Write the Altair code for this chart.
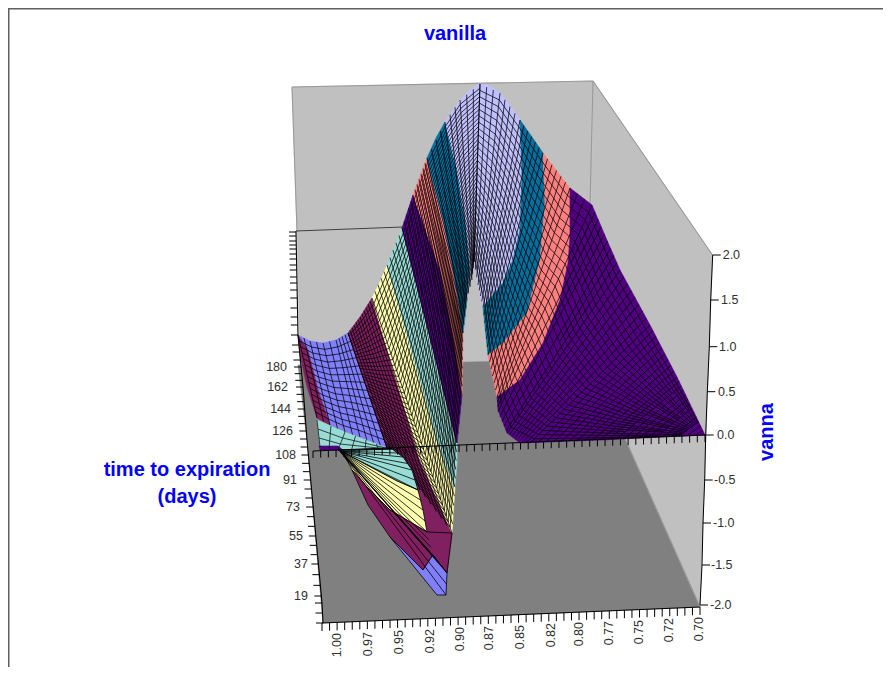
import altair as alt
import numpy as np
import pandas as pd

FONT = "Liberation Sans"
# ---------- walls (positions, in picture pixels)
back_wall = [(292,87),(593,81),(590,360),(300,365),(297,231)]
right_wall = [(593,81),(712.5,255),(700,607),(590,360)]
floor = [(298,365),(590,360),(700,607),(323,623),(307,440)]

# ---------- surface bands
band_hump = [(445,122),(460,100),(470,90),(480,84),(490,86),(500,93),(510,105),(520,120),(522,177),(520,230),(513,260),(503,283),(483,307),(478,285),(474,262),(470,275),(467,300),(470,270),(465,220),(457,170)]
band_blue_l = [(427,158),(436,138),(445,122),(457,170),(465,220),(470,270),(467,300),(463,333),(459,305),(453,270),(443,220)]
band_salmon_l = [(413,195),(420,176),(427,158),(443,220),(453,270),(459,305),(463,333),(462,395),(452,330),(440,270),(422,220)]
band_purple_l = [(402,228),(413,195),(422,220),(440,270),(452,330),(462,395),(457,443)]
band_aqua = [(387,265),(395,247),(402,228),(457,443),(457,463),(455,487),(440,450)]
band_yellow = [(372,298),(380,282),(387,265),(440,450),(455,487),(452,533),(420,460)]
band_plum = [(348,333),(360,317),(372,298),(420,460),(452,533),(447,573),(390,510),(387,448)]
band_peri = [(298,335),(310,341),(323,343),(336,340),(348,333),(387,448),(360,437),(330,425),(318,390),(308,350)]
band_strip = [(298,335),(308,350),(318,390),(330,425),(317,418),(307,387),(300,355)]
band_aqua_back = [(317,420),(345,432),(387,448),(392,450),(338,450),(320,447)]
band_purple_tiny = [(319,446),(338,446),(343,450),(320,450)]
band_blue_r = [(520,120),(532,137),(543,153),(545,203),(540,260),(527,313),(503,343),(488,355),(483,307),(503,283),(513,260),(520,230),(522,177)]
band_salmon_r = [(543,153),(556,170),(570,188),(570,237),(568,263),(560,300),(543,343),(520,380),(497,397),(488,355),(503,343),(527,313),(540,260),(545,203)]
band_purple_r = [(570,188),(592,205),(606,238),(620,270),(650,325),(677,377),(705,435),(600,440),(520,443),(507,433),(498,410),(497,397),(520,380),(543,343),(560,300),(568,263),(570,237)]
fold_aqua = [(338,450),(392,449),(403,457),(412,470),(418,490),(397,481),(363,463)]
fold_yellow = [(343,452),(363,463),(397,481),(418,490),(423,510),(427,532),(390,510),(367,487),(352,470)]
fold_plum = [(352,470),(367,487),(390,510),(427,532),(452,533),(447,573),(433,555),(423,570),(390,537),(368,505)]
fold_tip = [(390,537),(423,570),(433,555),(447,573),(446,595),(437,595)]

HUMP="#C0C0FF"; BLUE="#0070A0"; SALMON="#FF8080"; PURPLE="#500080"
AQUA="#98DCD6"; YELLOW="#FFFFB0"; PLUM="#802060"; PERI="#8080FF"
polys_back = [(back_wall,"#C0C0C0"),(right_wall,"#C0C0C0"),(floor,"#808080")]
polys_surface = [(band_peri,PERI),(band_strip,PLUM),(band_aqua_back,AQUA),(band_purple_tiny,PURPLE),
    (band_plum,PLUM),(band_yellow,YELLOW),(band_aqua,AQUA),(band_purple_l,PURPLE),(band_salmon_l,SALMON),(band_blue_l,BLUE),
    (band_hump,HUMP),(band_blue_r,BLUE),(band_salmon_r,SALMON),(band_purple_r,PURPLE)]
polys_fold = [(fold_aqua,AQUA),(fold_yellow,YELLOW),(fold_plum,PLUM),(fold_tip,PERI)]

# ---------- paired edges of the mesh patches (silhouette side, lower side)
left_top = [(480,84),(460,100),(445,122),(427,158),(413,195),(402,228),(387,265),(372,298),(360,317),(348,333)]
left_low = [(474,262),(472,280),(467,300),(463,333),(462,395),(457,443),(455,487),(452,533),(420,490),(387,448)]
peri_top = [(348,333),(336,340),(323,343),(310,341),(298,335)]
peri_low = [(387,448),(360,437),(345,432),(330,425),(317,418)]
right_top = [(480,84),(500,93),(520,120),(543,153),(570,188),(592,205),(620,270),(650,325),(677,377),(705,435)]
right_low = [(474,262),(478,285),(483,307),(488,355),(497,397),(498,412),(507,433),(530,443),(600,440),(703,435)]
fold_edge = [(392,449),(403,457),(412,470),(418,490),(423,510),(427,532),(433,555),(447,573),(446,595),(437,595)]
fold_apex = (340,451)
aqua_top = [(317,420),(345,432),(387,448)]
aqua_low = [(320,447),(338,450),(392,450)]

# ---------- axes
days_axis = [(296,231),(298,335),(303,387),(307,440),(322,603),(323,623)]
days_labels = ["180","162","144","126","108","91","73","55","37","19"]
days_label_y = [367,387,409,431,455,480,507,536,564,596]
days_label_x = [287,288,291,293,296,297,300,303,308,308]
days_upper_ticks = [232,236,241,245,249,254,259,265,270,277,283,290,298,308,317,325,335,345,352,360]
vanna_labels = ["2.0","1.5","1.0","0.5","0.0","-0.5","-1.0","-1.5","-2.0"]
vanna_y = [255,300,346.7,391.7,435,480,523,565,605]
vanna_axis_x = [712.7,710.7,709.3,707.3,705.7,704.7,703,702,700]
vanna_label_x = [722.7,721,719,718,717,714,713,711,710]
money_labels = ["1.00","0.97","0.95","0.92","0.90","0.87","0.85","0.82","0.80","0.77","0.75","0.72","0.70"]
money_x = [337,368,399,430,460,489,520,551,579,609,639,669,699]
money_top = [633,632,630,629,627,626,625,623,622,621,620,618,617]
front_axis = [(322,623),(700,607)]
zero_axis = [(313,451),(705,435)]
back_line = [(296,231),(403,227)]
frame = [(8.5,667),(8.5,8.5),(883,8.5)]
wall_edges = [[(292,87),(593,81),(712.5,255)],[(292,87),(297,231)],[(593,81),(590,205)],[(590,360),(700,607)]]

X = alt.Scale(domain=[8,883], nice=False, zero=False)
Y = alt.Scale(domain=[667,8], nice=False, zero=False)
def xenc(f="x"): return alt.X(f"{f}:Q", scale=X, axis=None)
def yenc(f="y"): return alt.Y(f"{f}:Q", scale=Y, axis=None)

def poly(points, color, edge=None):
    pts = list(points)+[points[0]]
    df = pd.DataFrame({"x":[p[0] for p in pts],"y":[p[1] for p in pts],"i":range(len(pts))})
    return alt.Chart(df).mark_line(fill=color, stroke=edge or color, strokeWidth=0.8 if edge else 0.6, clip=False).encode(xenc(), yenc(), order="i:Q")

def lines_chart(lines, color="#000000", width=0.7, opacity=1.0):
    rows=[]
    for k,l in enumerate(lines):
        for i,p in enumerate(l):
            rows.append((float(p[0]),float(p[1]),k,i))
    df = pd.DataFrame(rows,columns=["x","y","k","i"])
    return alt.Chart(df).mark_line(stroke=color, strokeWidth=width, opacity=opacity, clip=False).encode(xenc(), yenc(), detail="k:N", order="i:Q")

def patch(top, low, spacing, nw, min_gap=3.0):
    top=np.array(top,float); low=np.array(low,float)
    ss=[0.0]
    for j in range(len(top)-1):
        d=max(np.hypot(*(top[j+1]-top[j])),np.hypot(*(low[j+1]-low[j])))
        n=max(1,int(round(d/spacing)))
        ss += [j+(m+1)/n for m in range(n)]
    ss=np.array(ss); idx=np.arange(len(top))
    T=np.c_[np.interp(ss,idx,top[:,0]),np.interp(ss,idx,top[:,1])]
    L=np.c_[np.interp(ss,idx,low[:,0]),np.interp(ss,idx,low[:,1])]
    out=[]
    for i in range(len(ss)):
        # where neighbouring lines converge on the low side, stop alternate lines early
        gap=np.hypot(*(L[min(i+1,len(ss)-1)]-L[i]))
        start=0.5 if (gap<min_gap and i%2) else 0.0
        if gap<min_gap and i%4==3: start=0.75
        out.append([tuple(L[i]+start*(T[i]-L[i])),tuple(T[i])])
    sep=np.hypot(*(T-L).T)/nw
    for k,w in enumerate(np.linspace(0,1,nw+1)[1:-1]):
        step=1 if k%4==3 else (2 if k%2==1 else 4)   # thin the rows where they bunch up
        keep=sep*step>=min_gap
        if not keep.any():
            continue
        pts=(1-w)*L[keep]+w*T[keep]
        out.append([tuple(p) for p in pts])
    return out

def fit(points, y):
    p=np.array(points,float)
    return float(np.interp(y,p[:,1],p[:,0]))

def fan(apex, edge, spacing):
    e=np.array(edge,float); out=[]
    for a,b in zip(e[:-1],e[1:]):
        n=max(1,int(round(np.hypot(*(b-a))/spacing)))
        for m in range(n):
            out.append([apex,tuple(a+(b-a)*m/n)])
    return out

# ---------- ticks
day_ticks=[]
ys=list(days_upper_ticks)
for a,b in zip(days_label_y[:-1],days_label_y[1:]):
    ys += [a,a+(b-a)/3,a+2*(b-a)/3]
ys += [596,603,613,623]
for y in ys:
    x=fit(days_axis,y)
    day_ticks.append([(x-7,y),(x,y)])
def along(seg,n):
    (x0,y0),(x1,y1)=seg
    return [(x0+(x1-x0)*i/n,y0+(y1-y0)*i/n) for i in range(n+1)]
front_ticks=[[p,(p[0],p[1]+8)] for p in along(front_axis,50)]
zero_ticks=[[p,(p[0],p[1]+7)] for p in along(zero_axis,51)]
v_ticks=[[(x,y),(x+8,y)] for x,y in zip(vanna_axis_x,vanna_y)]
v_line=[list(zip(vanna_axis_x,vanna_y))]

def texts(labels,xs,ys,**kw):
    df=pd.DataFrame({"t":labels,"x":xs,"y":ys})
    return alt.Chart(df).mark_text(font=FONT,clip=False,**kw).encode(xenc(),yenc(),text="t:N")

layers=[]
layers += [poly(p,c) for p,c in polys_back]
layers.append(lines_chart(wall_edges,"#9a9a9a",1.1))
layers.append(lines_chart([back_line],"#404040",1.2))
layers += [poly(p,c) for p,c in polys_surface]
layers.append(lines_chart(patch(left_top,left_low,9,42),"#000000",0.75))
layers.append(lines_chart(patch(peri_top,peri_low,8,14),"#000000",0.75))
layers.append(lines_chart(patch(right_top,right_low,8,28),"#000000",0.75))
layers.append(lines_chart(patch(aqua_top,aqua_low,14,3),"#000000",0.7))
layers += [poly(p,c,"#000000") for p,c in polys_fold]
layers.append(lines_chart(fan(fold_apex,fold_edge,9),"#000000",0.8))
layers.append(lines_chart([days_axis],"#000000",1.1))
layers.append(lines_chart(day_ticks,"#000000",1.0))
layers.append(lines_chart([front_axis]+front_ticks,"#000000",1.0))
layers.append(lines_chart([zero_axis]+zero_ticks,"#000000",1.0))
layers.append(lines_chart(v_line+v_ticks,"#000000",1.0))
layers.append(lines_chart([frame],"#606060",2))
layers.append(texts(days_labels,days_label_x,days_label_y,align="right",baseline="middle",fontSize=12.5,color="#303030"))
layers.append(texts(vanna_labels,vanna_label_x,vanna_y,align="left",baseline="middle",fontSize=12.5,color="#303030"))
layers.append(texts(money_labels,money_x,money_top,align="right",baseline="middle",angle=270,fontSize=12.5,color="#303030"))
layers.append(texts(["vanilla"],[455],[34],align="center",baseline="middle",fontSize=20,fontWeight="bold",color="#0000FF"))
layers.append(texts(["time to expiration","(days)"],[187,187],[470,497],align="center",baseline="middle",fontSize=20,fontWeight="bold",color="#0000FF"))
layers.append(texts(["vanna"],[767],[432],align="center",baseline="middle",angle=270,fontSize=20,fontWeight="bold",color="#0000FF"))

chart = alt.layer(*layers).properties(width=875,height=659,padding=0,
    autosize=alt.AutoSizeParams(type="none"),background="#FFFFFF").configure_view(stroke=None)
chart.save("out.html", embed_options={"renderer":"svg","actions":False})
